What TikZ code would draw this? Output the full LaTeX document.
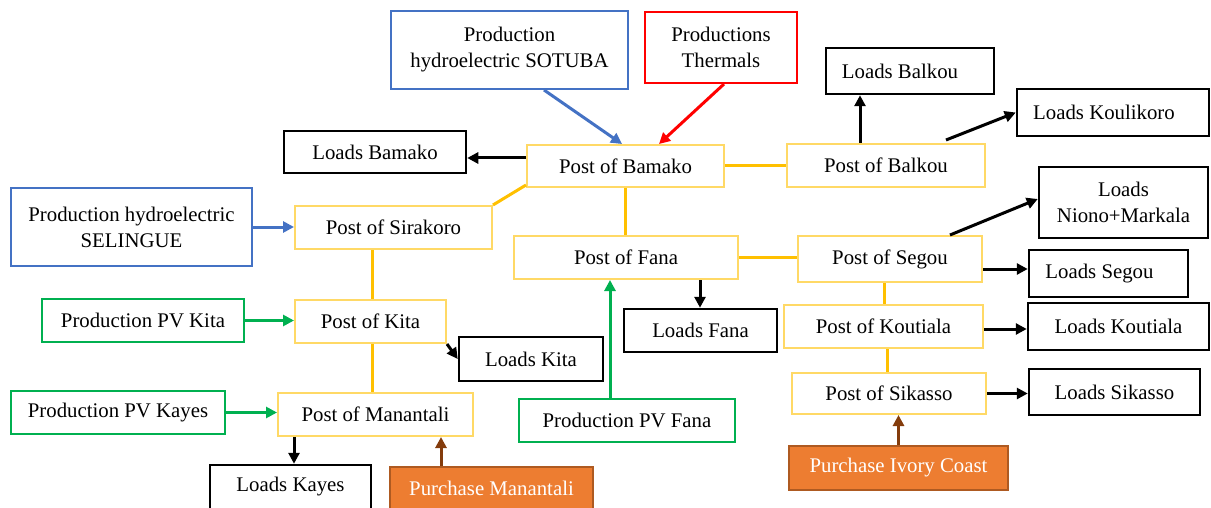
\documentclass[tikz,border=0pt]{standalone}
\usepackage{fontspec}
\setmainfont{Liberation Serif}
\usetikzlibrary{arrows.meta}
\definecolor{postc}{HTML}{FFD966}
\definecolor{linec}{HTML}{FFC000}
\definecolor{bluec}{HTML}{4472C4}
\definecolor{redc}{HTML}{FF0000}
\definecolor{greenc}{HTML}{00B050}
\definecolor{orangec}{HTML}{ED7D31}
\definecolor{orangeb}{HTML}{AE5A21}
\definecolor{brownc}{HTML}{843C0C}
\tikzset{
  x=1pt, y=-1pt,
  box/.style={rectangle, inner sep=0pt, align=center, fill=white,
    font=\fontsize{20.8}{26}\selectfont},
  post/.style={box, draw=postc, line width=2pt},
  load/.style={box, draw=black, line width=2.5pt},
  hydro/.style={box, draw=bluec, line width=2pt},
  thermo/.style={box, draw=redc, line width=2pt},
  pv/.style={box, draw=greenc, line width=2pt},
  buy/.style={box, draw=orangeb, fill=orangec, line width=2pt, text=white},
  tip/.style={-{Triangle[length=11pt,width=11pt]}},
  arr/.style={tip, line width=3pt, draw=black},
  barr/.style={tip, line width=3pt, draw=bluec},
  rarr/.style={tip, line width=3pt, draw=redc},
  garr/.style={tip, line width=3pt, draw=greenc},
  oarr/.style={tip, line width=3pt, draw=brownc},
  link/.style={line width=3pt, draw=linec},
}
\newcommand{\bx}[3]{minimum width=#1pt, minimum height=#2pt}
\begin{document}
\begin{tikzpicture}
\useasboundingbox (0,0) rectangle (1211,508);
\clip (0,0) rectangle (1211,508);

% nodes
\node[hydro, minimum width=237pt, minimum height=78pt] (sotuba) at (509.5,50) {Production\\hydroelectric SOTUBA};
\node[thermo, minimum width=152pt, minimum height=71pt] (thermal) at (721,47.5) {Productions\\Thermals};
\node[post, minimum width=197pt, minimum height=42pt] (bamako) at (625.5,166) {Post of Bamako};
\node[load, minimum width=182pt, minimum height=42pt] (lbamako) at (375,152) {Loads Bamako};
\node[load, minimum width=168pt, minimum height=46pt] (lbalkou) at (910,71) {Loads Balkou\hspace*{20pt}};
\node[load, minimum width=192pt, minimum height=47pt] (lkoulikoro) at (1113,112.5) {Loads Koulikoro\hspace*{18pt}};
\node[post, minimum width=198pt, minimum height=43pt] (balkou) at (886,165.5) {Post of Balkou};
\node[load, minimum width=169pt, minimum height=71pt] (niono) at (1123.5,202.5) {Loads\\Niono+Markala};
\node[post, minimum width=184pt, minimum height=46pt] (segou) at (890,259) {Post of Segou};
\node[load, minimum width=159pt, minimum height=47pt] (lsegou) at (1108.5,273.5) {Loads Segou\hspace*{18pt}};
\node[post, minimum width=199pt, minimum height=43pt] (koutiala) at (883.5,326.5) {Post of Koutiala};
\node[load, minimum width=181pt, minimum height=47pt] (lkoutiala) at (1118.5,326.5) {Loads Koutiala};
\node[post, minimum width=194pt, minimum height=41pt] (sikasso) at (889,393.5) {Post of Sikasso};
\node[load, minimum width=171pt, minimum height=46pt] (lsikasso) at (1114.5,392) {Loads Sikasso};
\node[buy, minimum width=219pt, minimum height=44pt] (ivory) at (898.5,468) {Purchase Ivory Coast};
\node[post, minimum width=224pt, minimum height=43pt] (fana) at (626,257.5) {Post of Fana};
\node[load, minimum width=153pt, minimum height=43pt] (lfana) at (700.5,330.5) {Loads Fana};
\node[pv, minimum width=216pt, minimum height=43pt] (pvfana) at (627,420.5) {Production PV Fana};
\node[post, minimum width=197pt, minimum height=43pt] (sirakoro) at (393.5,227.5) {Post of Sirakoro};
\node[hydro, minimum width=241pt, minimum height=78pt] (selingue) at (131.5,227) {Production hydroelectric\\SELINGUE};
\node[post, minimum width=151pt, minimum height=43pt] (kita) at (370.5,321.5) {Post of Kita};
\node[pv, minimum width=202pt, minimum height=43pt] (pvkita) at (143,320.5) {Production PV Kita};
\node[load, minimum width=144pt, minimum height=44pt] (lkita) at (531,359) {Loads Kita};
\node[post, minimum width=195pt, minimum height=43pt] (manantali) at (375.5,414.5) {Post of Manantali};
\node[pv, minimum width=214pt, minimum height=43pt] (pvkayes) at (118,412.5) {Production PV Kayes};
\node[load, minimum width=161pt, minimum height=44pt] (lkayes) at (290.5,487) {Loads Kayes};
\node[buy, minimum width=203pt, minimum height=42pt] (purman) at (491.5,488) {Purchase Manantali};

% yellow links
\draw[link] (bamako.east) -- (bamako.east -| balkou.west);
\draw[link] (bamako.south) -- (bamako.south |- fana.north);
\draw[link] (sirakoro.north east) -- ([yshift=3pt]bamako.south west);
\draw[link] (fana.east) -- (fana.east -| segou.west);
\draw[link] ([xshift=-6pt]segou.south) -- ([xshift=-6pt]segou.south |- koutiala.north);
\draw[link] ([xshift=3.5pt]koutiala.south) -- ([xshift=3.5pt]koutiala.south |- sikasso.north);
\draw[link] ([xshift=1.5pt]kita.north) -- ([xshift=1.5pt]kita.north |- sirakoro.south);
\draw[link] ([xshift=1.5pt]kita.south) -- ([xshift=1.5pt]kita.south |- manantali.north);

% arrows
\draw[barr] ([xshift=34.5pt]sotuba.south) -- ([xshift=-3.5pt]bamako.north);
\draw[rarr] ([xshift=3pt]thermal.south) -- ([xshift=33.5pt]bamako.north);
\draw[arr] ([yshift=8pt]bamako.west) -- ([yshift=8pt]bamako.west -| lbamako.east);
\draw[arr] ([xshift=-26pt]balkou.north) -- ([xshift=-26pt]balkou.north |- lbalkou.south);
\draw[arr] ([xshift=60pt,yshift=3pt]balkou.north) -- (lkoulikoro.west);
\draw[arr] ([xshift=60pt]segou.north) -- ([yshift=3.5pt]niono.west);
\draw[arr] ([yshift=-10pt]segou.east) -- ([yshift=-10pt]segou.east -| lsegou.west);
\draw[arr] ([yshift=-2.5pt]koutiala.east) -- ([yshift=-2.5pt]koutiala.east -| lkoutiala.west);
\draw[arr] (sikasso.east) -- (sikasso.east -| lsikasso.west);
\draw[oarr] (ivory.north) -- (ivory.north |- sikasso.south);
\draw[arr] ([xshift=74pt]fana.south) -- ([xshift=74pt]fana.south |- lfana.north);
\draw[garr] ([xshift=-17pt]pvfana.north) -- ([xshift=-17pt]pvfana.north |- fana.south);
\draw[barr] (selingue.east) -- (selingue.east -| sirakoro.west);
\draw[garr] (pvkita.east) -- (pvkita.east -| kita.west);
\draw[arr] (kita.south east) -- (lkita.west);
\draw[garr] (pvkayes.east) -- (pvkayes.east -| manantali.west);
\draw[arr] ([xshift=-81.5pt]manantali.south) -- ([xshift=-81.5pt]manantali.south |- lkayes.north);
\draw[oarr] ([xshift=-50.5pt]purman.north) -- ([xshift=-50.5pt]purman.north |- manantali.south);
\end{tikzpicture}
\end{document}
